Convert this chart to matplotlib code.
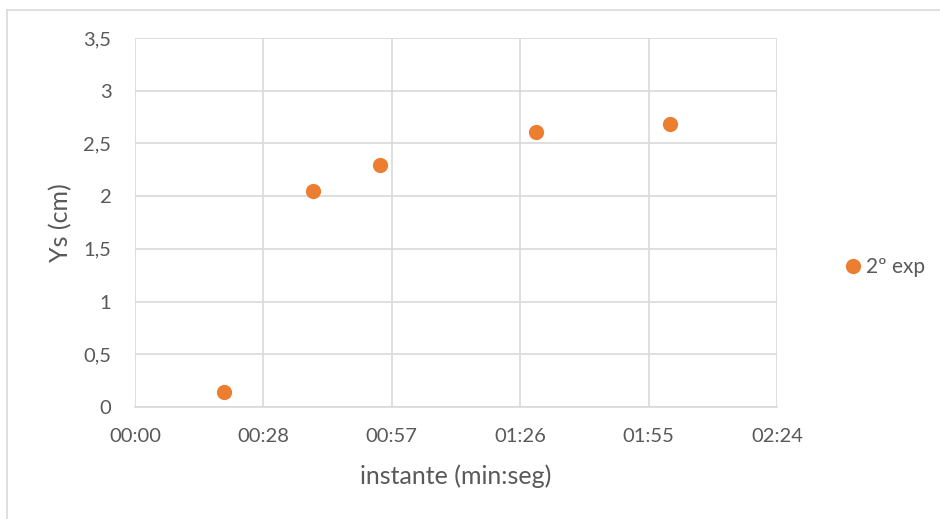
import matplotlib.pyplot as plt
from matplotlib.ticker import FuncFormatter, FixedLocator
from matplotlib.lines import Line2D

# instants in seconds and the Ys readings in cm
instante_s = [20, 40, 55, 90, 120]
ys_cm = [0.14, 2.05, 2.30, 2.61, 2.68]
serie = '2º exp'

laranja = '#ED7D31'
grelha = '#D9D9D9'
texto = '#595959'

plt.rcParams['font.family'] = ['Lato', 'DejaVu Sans']

fig = plt.figure(figsize=(9.4, 5.19), dpi=100)
ax = fig.add_axes([135 / 940, 1 - 407 / 519, 642 / 940, 369 / 519])

ax.scatter(instante_s, ys_cm, s=120, color=laranja, zorder=3, linewidths=0)


def mmss(v, pos):
    s = int(v + 1e-6)
    return '%02d:%02d' % (s // 60, s % 60)


ax.set_xlim(0, 144)
ax.set_ylim(0, 3.5)
ax.xaxis.set_major_locator(FixedLocator([0, 28.8, 57.6, 86.4, 115.2, 144]))
ax.xaxis.set_major_formatter(FuncFormatter(mmss))
ax.set_yticks([0, 0.5, 1, 1.5, 2, 2.5, 3, 3.5])
ax.set_yticklabels(['0', '0,5', '1', '1,5', '2', '2,5', '3', '3,5'])

ax.grid(True, color=grelha, linewidth=1.2, zorder=0)
ax.set_axisbelow(True)
for lado in ['top', 'right', 'left']:
    ax.spines[lado].set_visible(False)
ax.spines['bottom'].set_color(grelha)
ax.spines['bottom'].set_linewidth(1.2)
ax.tick_params(axis='x', length=0, pad=15, labelsize=14.5, colors=texto)
ax.tick_params(axis='y', length=0, pad=17, labelsize=14.5, colors=texto)

ax.set_xlabel('instante (min:seg)', fontsize=18, color=texto)
ax.set_ylabel('Ys (cm)', fontsize=18, color=texto)
ax.xaxis.set_label_coords(0.5, -0.155)
ax.yaxis.set_label_coords(-0.097, 0.5)

marca = Line2D([], [], marker='o', linestyle='none', color=laranja,
               markersize=11, markeredgewidth=0)
fig.legend([marca], [serie], loc='center left', frameon=False,
           bbox_to_anchor=(822 / 940, 1 - 267 / 519), fontsize=15,
           handletextpad=0.0, labelcolor=texto, handlelength=1.2)

# chart border
fig.add_artist(Line2D([7.5 / 940, 7.5 / 940], [0, 1 - 9.5 / 519],
                      transform=fig.transFigure, color=grelha, linewidth=1.2))
fig.add_artist(Line2D([7.5 / 940, 1], [1 - 9.5 / 519, 1 - 9.5 / 519],
                      transform=fig.transFigure, color=grelha, linewidth=1.2))

fig.savefig('out.png', dpi=100)
